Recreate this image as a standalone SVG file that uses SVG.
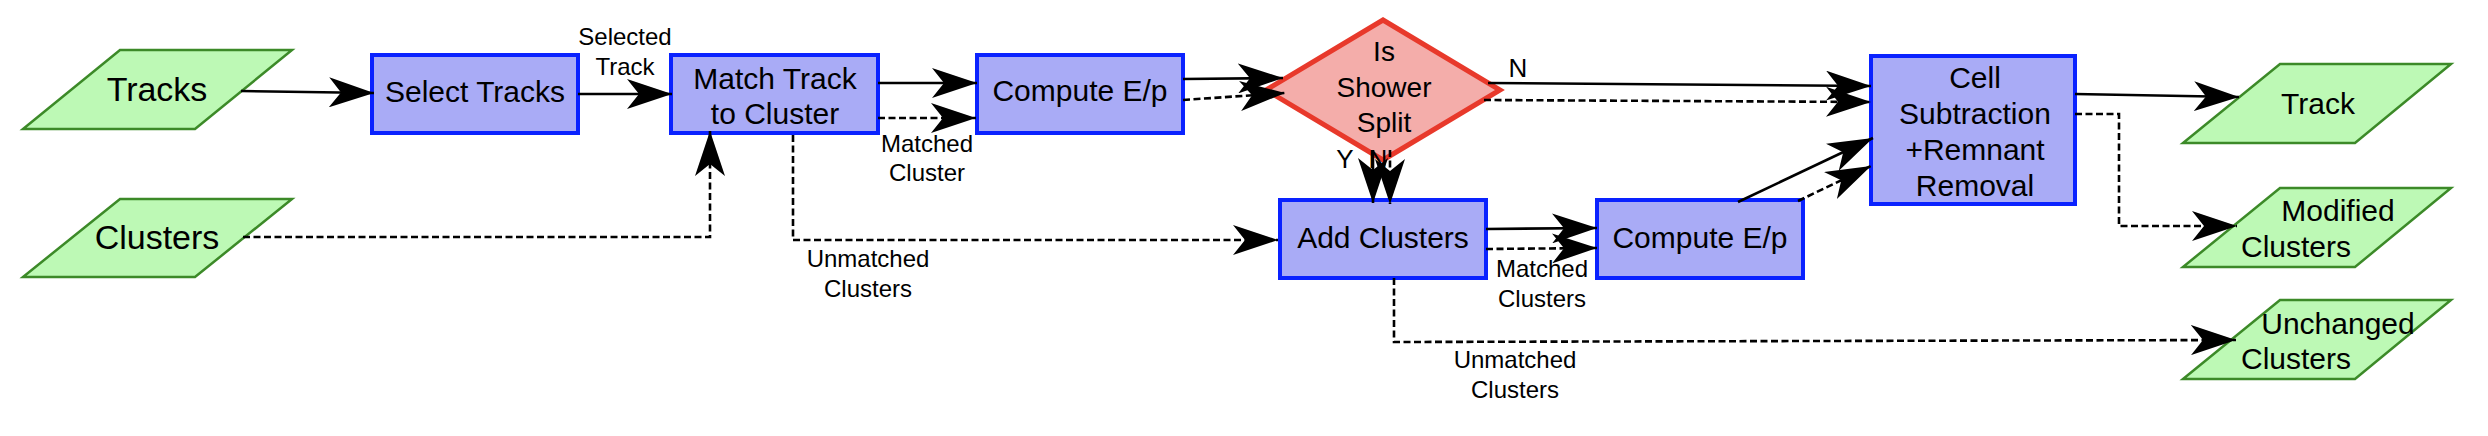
<svg xmlns="http://www.w3.org/2000/svg" width="2488" height="436" viewBox="0 0 2488 436">
<style>
  .io { fill: #bdf9b5; stroke: #3c8a28; stroke-width: 2.5; }
  .proc { fill: #a9abf6; stroke: #0a22ff; stroke-width: 4; }
  .dec { fill: #f4adaa; stroke: #e8392b; stroke-width: 5; }
  text { font-family: "Liberation Sans", "DejaVu Sans", sans-serif; fill: #000; text-anchor: middle; }
  .t34 { font-size: 34px; }
  .t30 { font-size: 30px; }
  .t28 { font-size: 28px; }
  .lbl { font-size: 24px; }
  .lblb { font-size: 26px; }
  .c { fill: none; stroke: #000; stroke-width: 2.6; marker-end: url(#arr); }
  .d { stroke-dasharray: 7 3.5; }
</style>
<defs>
  <marker id="arr" markerUnits="userSpaceOnUse" markerWidth="46" markerHeight="30" viewBox="0 0 46 30" refX="45" refY="15" orient="auto">
    <path d="M0,0 L45,15 L0,30 L12,15 Z" fill="#000"/>
  </marker>
</defs>
<rect width="2488" height="436" fill="#fff"/>

<g id="node-tracks">
  <polygon class="io" points="120,50 292,50 195,129 23,129"/>
  <text class="t34" x="157" y="101">Tracks</text>
</g>
<g id="node-clusters">
  <polygon class="io" points="120,199 292,199 195,277 23,277"/>
  <text class="t34" x="157" y="249">Clusters</text>
</g>
<g id="node-select-tracks">
  <rect class="proc" x="372" y="55" width="206" height="78"/>
  <text class="t30" x="475" y="102">Select Tracks</text>
</g>
<g id="node-match">
  <rect class="proc" x="671" y="55" width="207" height="78"/>
  <text class="t30" x="775" y="89">Match Track</text>
  <text class="t30" x="775" y="124">to Cluster</text>
</g>
<g id="node-compute1">
  <rect class="proc" x="977" y="55" width="206" height="78"/>
  <text class="t30" x="1080" y="101">Compute E/p</text>
</g>
<g id="node-split">
  <polygon class="dec" points="1383,20 1500,90 1383,160 1266,90"/>
  <text class="t28" x="1384" y="61">Is</text>
  <text class="t28" x="1384" y="97">Shower</text>
  <text class="t28" x="1384" y="132">Split</text>
</g>
<g id="node-add-clusters">
  <rect class="proc" x="1280" y="200" width="206" height="78"/>
  <text class="t30" x="1383" y="248">Add Clusters</text>
</g>
<g id="node-compute2">
  <rect class="proc" x="1597" y="200" width="206" height="78"/>
  <text class="t30" x="1700" y="248">Compute E/p</text>
</g>
<g id="node-cell-subtraction">
  <rect class="proc" x="1871" y="56" width="204" height="148"/>
  <text class="t30" x="1975" y="88">Cell</text>
  <text class="t30" x="1975" y="124">Subtraction</text>
  <text class="t30" x="1975" y="160">+Remnant</text>
  <text class="t30" x="1975" y="196">Removal</text>
</g>
<g id="node-track-out">
  <polygon class="io" points="2280,64 2451,64 2355,143 2183,143"/>
  <text class="t30" x="2318" y="114">Track</text>
</g>
<g id="node-modified-clusters">
  <polygon class="io" points="2280,188 2451,188 2355,267 2183,267"/>
  <text class="t30" x="2338" y="221">Modified</text>
  <text class="t30" x="2296" y="257">Clusters</text>
</g>
<g id="node-unchanged-clusters">
  <polygon class="io" points="2280,300 2451,300 2355,379 2183,379"/>
  <text class="t30" x="2338" y="334">Unchanged</text>
  <text class="t30" x="2296" y="369">Clusters</text>
</g>

<g id="edge-labels">
  <text class="lbl" x="625" y="45">Selected</text>
  <text class="lbl" x="625" y="75">Track</text>
  <text class="lbl" x="927" y="152">Matched</text>
  <text class="lbl" x="927" y="181">Cluster</text>
  <text class="lbl" x="868" y="267">Unmatched</text>
  <text class="lbl" x="868" y="297">Clusters</text>
  <text class="lblb" x="1518" y="77">N</text>
  <text class="lblb" x="1345" y="168">Y</text>
  <text class="lblb" x="1378" y="168">N</text>
  <text class="lbl" x="1542" y="277">Matched</text>
  <text class="lbl" x="1542" y="307">Clusters</text>
  <text class="lbl" x="1515" y="368">Unmatched</text>
  <text class="lbl" x="1515" y="398">Clusters</text>
</g>

<g id="connectors">
  <path class="c" d="M241,91 L374,93"/>
  <path class="c" d="M578,94 L672,94"/>
  <path class="c d" d="M243,237 L710,237 L710,131"/>
  <path class="c" d="M878,83 L977,83"/>
  <path class="c d" d="M878,118 L976,118"/>
  <path class="c d" d="M793,135 L793,240 L1278,240"/>
  <path class="c" d="M1183,79 L1283,78"/>
  <path class="c d" d="M1183,100 L1285,93"/>
  <path class="c" d="M1488,83 L1871,86"/>
  <path class="c d" d="M1484,100 L1871,102"/>
  <path class="c" d="M1373,150 L1373,203"/>
  <path class="c d" d="M1390,150 L1390,204"/>
  <path class="c" d="M1486,229 L1597,228"/>
  <path class="c d" d="M1486,249 L1597,248"/>
  <path class="c" d="M1738,202 L1873,138"/>
  <path class="c d" d="M1798,201 L1871,166"/>
  <path class="c d" d="M1394,278 L1394,342 L2236,340"/>
  <path class="c" d="M2075,94 L2239,97"/>
  <path class="c d" d="M2075,114 L2119,114 L2119,226 L2237,226"/>
</g>
</svg>
